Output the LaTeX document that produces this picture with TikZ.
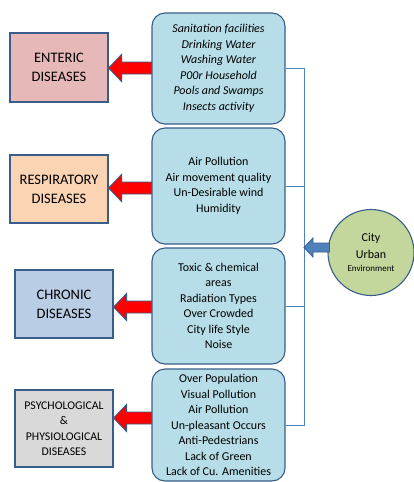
\documentclass[tikz,border=0pt]{standalone}
\usepackage{fontspec}
\setmainfont{Carlito}
\usetikzlibrary{calc}
\definecolor{bord}{HTML}{385D8A}
\definecolor{linec}{HTML}{4F81BD}
\definecolor{pinkc}{HTML}{E6B9B8}
\definecolor{peachc}{HTML}{FBD4B4}
\definecolor{chronc}{HTML}{B9CDE5}
\definecolor{grayc}{HTML}{D9D9D9}
\definecolor{midc}{HTML}{B7DEE8}
\definecolor{circc}{HTML}{C3D69B}
\newcommand\redarr[2]{%
  \filldraw[redarrow] (#1) -- ++(13,-13.5) -- ++(0,7.5) -- ($(#2)+(0,-6)$) -- ($(#2)+(0,6)$) -- ($(#1)+(13,6)$) -- ($(#1)+(13,13.5)$) -- cycle;}
\begin{document}
\begin{tikzpicture}[x=1pt,y=-1pt,
  disbox/.style={draw=bord,line width=1.1pt,minimum width=98pt,align=center,inner sep=2pt,
    font=\fontsize{14.5}{19}\selectfont},
  midbox/.style={draw=bord,fill=midc,line width=1.1pt,rounded corners=13pt,minimum width=133pt,
    align=center,inner sep=2pt,font=\fontsize{12}{15.5}\selectfont},
  conn/.style={draw=linec,line width=0.7pt},
  redarrow/.style={fill=red,draw=bord,line width=0.9pt,line join=miter},
  bluearrow/.style={fill=linec,draw=bord,line width=0.8pt}]
\useasboundingbox (0,0) rectangle (414,482);
% disease boxes
\node[disbox,fill=pinkc,minimum height=69pt] (e1) at (59,67.5) {ENTERIC\\DISEASES};
\node[disbox,fill=peachc,minimum height=68pt] (e2) at (59,189) {RESPIRATORY\\DISEASES};
\node[disbox,fill=chronc,minimum height=68pt] (e3) at (64,304) {CHRONIC\\DISEASES};
\node[disbox,fill=grayc,minimum height=77pt,font=\fontsize{11.8}{15.5}\selectfont] (e4) at (64,428.5) {PSYCHOLOGICAL\\\&\\PHYSIOLOGICAL\\DISEASES};
% factor boxes
\node[midbox,minimum height=111pt,font=\fontsize{12}{15.5}\selectfont\itshape] (m1) at (218.5,68.5) {Sanitation facilities\\Drinking Water\\Washing Water\\P00r Household\\Pools and Swamps\\Insects activity};
\node[midbox,minimum height=116pt] (m2) at (218.5,186) {Air Pollution\\Air movement quality\\Un-Desirable wind\\Humidity};
\node[midbox,minimum height=116pt] (m3) at (218.5,306) {Toxic \& chemical\\areas\\Radiation Types\\Over Crowded\\City life Style\\Noise};
\node[midbox,minimum height=112pt] (m4) at (218.5,425) {Over Population\\Visual Pollution\\Air Pollution\\Un-pleasant Occurs\\Anti-Pedestrians\\Lack of Green\\Lack of Cu. Amenities};
% circle
\node[circle,draw=bord,fill=circc,line width=1.1pt,minimum size=86pt,inner sep=0pt,align=center,
  font=\fontsize{12}{16.5}\selectfont] (c) at (371,252.5)
  {City\\Urban\\[-3pt]{\fontsize{9}{12}\selectfont Environment}};
% bus
\coordinate (bus) at (304,0);
\draw[conn] (m1.east) -- (m1.east -| bus) -- (m4.east -| bus) -- (m4.east);
\draw[conn] (m2.east) -- (m2.east -| bus);
\draw[conn] (m3.east) -- (m3.east -| bus);
% blue arrow from circle
\coordinate (cw) at ([yshift=5pt]c.west);
\coordinate (bt) at (cw -| bus);
\filldraw[bluearrow] (bt) -- ++(9,-9.5) -- ++(0,5) -- ($(cw)+(2,-4.5)$) -- ($(cw)+(2,4.5)$) -- ($(bt)+(9,4.5)$) -- ($(bt)+(9,9.5)$) -- cycle;
% red arrows
\coordinate (t1) at ([yshift=-0.5pt]e1.east);
\coordinate (t2) at ([yshift=1pt]e2.east);
\coordinate (t3) at ([yshift=-3pt]e3.east);
\coordinate (t4) at ([yshift=10.5pt]e4.east);
\redarr{t1}{m1.west |- t1}
\redarr{t2}{m2.west |- t2}
\redarr{t3}{m3.west |- t3}
\redarr{t4}{m4.west |- t4}
\end{tikzpicture}
\end{document}
